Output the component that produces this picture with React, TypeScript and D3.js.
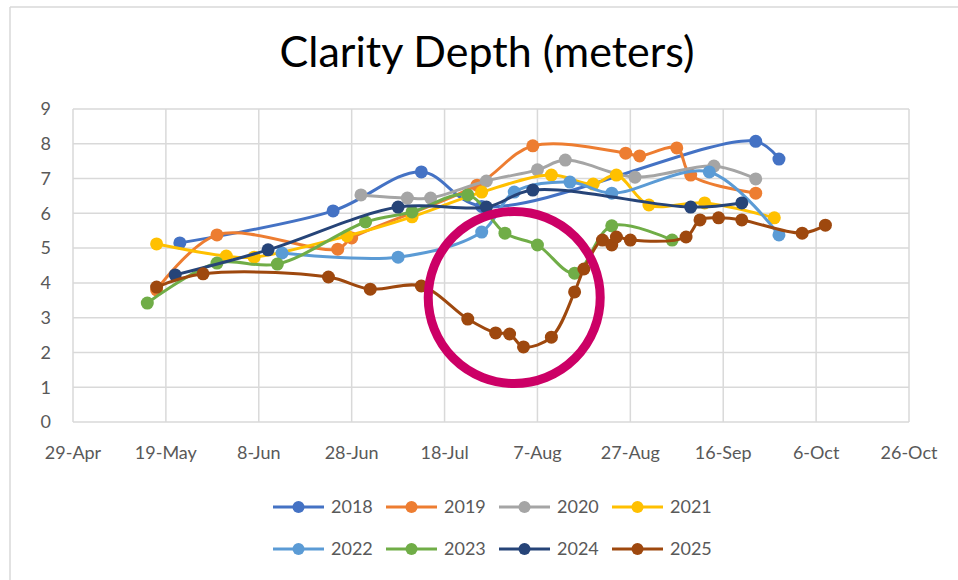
import React from 'react';
import * as d3 from 'd3';

// x tick labels (every 20 days) and y ticks
const xTickLabels = ['29-Apr', '19-May', '8-Jun', '28-Jun', '18-Jul', '7-Aug', '27-Aug', '16-Sep', '6-Oct', '26-Oct'];
const yTicks = [0, 1, 2, 3, 4, 5, 6, 7, 8, 9];

const years = ['2018', '2019', '2020', '2021', '2022', '2023', '2024', '2025'];
const colors = ['#4472C4', '#ED7D31', '#A5A5A5', '#FFC000', '#5B9BD5', '#70AD47', '#264478', '#9E480E'];

// sample dates (month-day) and clarity depth per year
const dates2018 = ['05-22', '06-24', '07-13', '07-26', '09-23', '09-28'];
const depth2018 = [5.15, 6.07, 7.19, 6.2, 8.07, 7.56];

const dates2019 = ['05-17', '05-30', '06-25', '06-28', '07-25', '08-06', '08-26', '08-29', '09-06', '09-09', '09-23'];
const depth2019 = [3.8, 5.38, 4.97, 5.29, 6.81, 7.94, 7.73, 7.65, 7.88, 7.1, 6.58];

const dates2020 = ['06-30', '07-10', '07-15', '07-27', '08-07', '08-13', '08-28', '09-14', '09-23'];
const depth2020 = [6.53, 6.44, 6.44, 6.93, 7.25, 7.53, 7.04, 7.36, 6.99];

const dates2021 = ['05-17', '06-01', '06-07', '06-27', '07-11', '07-26', '08-10', '08-19', '08-24', '08-31', '09-12', '09-27'];
const depth2021 = [5.12, 4.77, 4.74, 5.35, 5.9, 6.61, 7.1, 6.84, 7.1, 6.24, 6.3, 5.87];

const dates2022 = ['06-13', '07-08', '07-26', '08-02', '08-14', '08-23', '09-13', '09-28'];
const depth2022 = [4.86, 4.74, 5.46, 6.61, 6.9, 6.58, 7.19, 5.38];

const dates2023 = ['05-15', '05-30', '06-12', '07-01', '07-11', '07-23', '07-31', '08-07', '08-15', '08-23', '09-05'];
const depth2023 = [3.42, 4.57, 4.54, 5.75, 6.04, 6.53, 5.43, 5.09, 4.28, 5.64, 5.23];

const dates2024 = ['05-21', '06-10', '07-08', '07-27', '08-06', '09-09', '09-20'];
const depth2024 = [4.23, 4.95, 6.18, 6.18, 6.67, 6.18, 6.3];

const dates2025 = ['05-17', '05-27', '06-23', '07-02', '07-13', '07-23', '07-29', '08-01', '08-04', '08-10', '08-15', '08-17',
  '08-21', '08-23', '08-24', '08-27', '09-08', '09-11', '09-15', '09-20', '10-03', '10-08'];
const depth2025 = [3.88, 4.26, 4.17, 3.82, 3.91, 2.96, 2.56, 2.53, 2.16, 2.44, 3.74, 4.4,
  5.23, 5.09, 5.32, 5.23, 5.32, 5.81, 5.87, 5.81, 5.43, 5.66];

const seriesDates = [dates2018, dates2019, dates2020, dates2021, dates2022, dates2023, dates2024, dates2025];
const seriesDepths = [depth2018, depth2019, depth2020, depth2021, depth2022, depth2023, depth2024, depth2025];

// highlight ring around the 2025 dip
const ringDate = '08-02';
const ringDepth = 3.58;

const W = 958;
const H = 580;
const plot = { left: 73, right: 909, top: 109, bottom: 422 };
const font = 'Lato, "Open Sans", sans-serif';
const grey = '#595959';
const gridColor = '#D9D9D9';

const parseMD = d3.timeParse('%Y-%m-%d');
const parseTick = d3.timeParse('%Y-%d-%b');
const toDate = (md: string) => parseMD('2025-' + md) as Date;

export default function App() {
  const tickDates = xTickLabels.map(t => parseTick('2025-' + t) as Date);

  const x = d3.scaleTime()
    .domain([tickDates[0], tickDates[tickDates.length - 1]])
    .range([plot.left, plot.right]);
  const y = d3.scaleLinear().domain([0, 9]).range([plot.bottom, plot.top]);

  const line = d3.line<{ d: Date; v: number }>()
    .x(p => x(p.d))
    .y(p => y(p.v))
    .curve(d3.curveCatmullRom.alpha(0.5));

  const series = years.map((yr, i) => ({
    year: yr,
    color: colors[i],
    pts: seriesDates[i].map((md, j) => ({ d: toDate(md), v: seriesDepths[i][j] })),
  }));

  // legend: two rows of four
  const legendX = d3.scalePoint<number>().domain([0, 1, 2, 3]).range([273, 612]);
  const legendY = [507, 549];

  return (
    <div style={{ position: 'absolute', left: 0, top: 0 }}>
      <svg width={W} height={H} style={{ display: 'block', background: '#fff' }}>
        {/* chart frame */}
        <line x1={10} y1={7} x2={W} y2={7} stroke={gridColor} strokeWidth={1.5} />
        <line x1={10} y1={7} x2={10} y2={H} stroke={gridColor} strokeWidth={1.5} />

        <text x={487} y={67} textAnchor="middle" fontFamily={font} fontSize={43} fill="#000">
          Clarity Depth (meters)
        </text>

        {/* grid */}
        {yTicks.map(t => (
          <line key={'gy' + t} x1={plot.left} x2={plot.right} y1={y(t)} y2={y(t)} stroke={gridColor} strokeWidth={1.5} />
        ))}
        {tickDates.map((d, i) => (
          <line key={'gx' + i} x1={x(d)} x2={x(d)} y1={plot.top} y2={plot.bottom} stroke={gridColor} strokeWidth={1.5} />
        ))}

        {/* axis labels */}
        {yTicks.map(t => (
          <text key={'ly' + t} x={51} y={y(t)} dy="0.35em" textAnchor="end" fontFamily={font} fontSize={18} fill={grey}>
            {t}
          </text>
        ))}
        {tickDates.map((d, i) => (
          <text key={'lx' + i} x={x(d)} y={453} dy="0.35em" textAnchor="middle" fontFamily={font} fontSize={18} fill={grey}>
            {xTickLabels[i]}
          </text>
        ))}

        {/* series */}
        {series.map(s => (
          <g key={s.year}>
            <path d={line(s.pts) || ''} fill="none" stroke={s.color} strokeWidth={3} />
            {s.pts.map((p, j) => (
              <circle key={j} cx={x(p.d)} cy={y(p.v)} r={6.5} fill={s.color} />
            ))}
          </g>
        ))}

        {/* highlight ring */}
        <circle cx={x(toDate(ringDate))} cy={y(ringDepth)} r={86} fill="none" stroke="#CC0066" strokeWidth={9} />

        {/* legend */}
        {series.map((s, i) => {
          const lx = legendX(i % 4) as number;
          const ly = legendY[Math.floor(i / 4)];
          return (
            <g key={'lg' + s.year}>
              <line x1={lx} x2={lx + 51} y1={ly} y2={ly} stroke={s.color} strokeWidth={3} />
              <circle cx={lx + 25.5} cy={ly} r={6} fill={s.color} />
              <text x={lx + 58} y={ly} dy="0.35em" fontFamily={font} fontSize={18} fill={grey}>
                {s.year}
              </text>
            </g>
          );
        })}
      </svg>
    </div>
  );
}
